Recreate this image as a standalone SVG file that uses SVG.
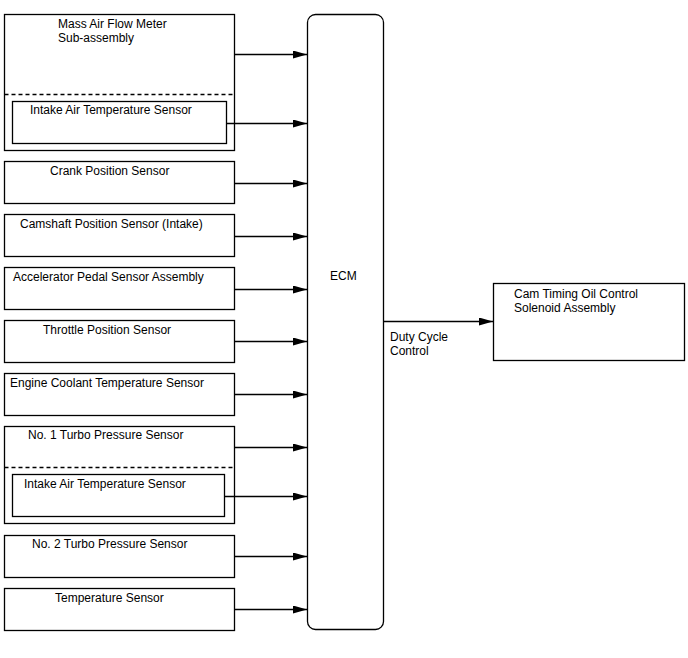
<svg xmlns="http://www.w3.org/2000/svg" width="688" height="658" viewBox="0 0 688 658">
<style>
.b{fill:#fff;stroke:#000;stroke-width:1.3}
.d{stroke:#000;stroke-width:1.3;stroke-dasharray:4,3;fill:none}
.t{font-family:"Liberation Sans",Arial,sans-serif;font-size:12px;fill:#000}
.c{stroke:#000;stroke-width:1.3;fill:none;marker-end:url(#a)}
</style>
<defs>
<marker id="a" markerWidth="14" markerHeight="8" refX="14" refY="4" orient="auto" markerUnits="userSpaceOnUse">
<path d="M0,0 L14,4 L0,8 z" fill="#000"/>
</marker>
</defs>
<rect width="688" height="658" fill="#fff"/>
<g id="maf">
<rect class="b" x="4.5" y="14.5" width="230" height="136"/>
<line class="d" x1="4.5" y1="94.5" x2="234.5" y2="94.5"/>
<text class="t" x="58" y="28">Mass Air Flow Meter</text>
<text class="t" x="58" y="42">Sub-assembly</text>
</g>
<g id="iat1">
<rect class="b" x="12.5" y="101.5" width="214" height="42"/>
<text class="t" x="30" y="114">Intake Air Temperature Sensor</text>
</g>
<g id="crank">
<rect class="b" x="4.5" y="161.5" width="230" height="42"/>
<text class="t" x="50" y="175">Crank Position Sensor</text>
</g>
<g id="cam">
<rect class="b" x="4.5" y="214.5" width="230" height="42"/>
<text class="t" x="20" y="228">Camshaft Position Sensor (Intake)</text>
</g>
<g id="accel">
<rect class="b" x="4.5" y="267.5" width="230" height="42"/>
<text class="t" x="13" y="281">Accelerator Pedal Sensor Assembly</text>
</g>
<g id="throttle">
<rect class="b" x="4.5" y="320.5" width="230" height="42"/>
<text class="t" x="43" y="334">Throttle Position Sensor</text>
</g>
<g id="ect">
<rect class="b" x="4.5" y="373.5" width="230" height="42"/>
<text class="t" x="10" y="387">Engine Coolant Temperature Sensor</text>
</g>
<g id="turbo1">
<rect class="b" x="4.5" y="426.5" width="230" height="97"/>
<line class="d" x1="4.5" y1="467.5" x2="234.5" y2="467.5"/>
<text class="t" x="28" y="439">No. 1 Turbo Pressure Sensor</text>
</g>
<g id="iat2">
<rect class="b" x="12.5" y="474.5" width="212" height="42"/>
<text class="t" x="24" y="488">Intake Air Temperature Sensor</text>
</g>
<g id="turbo2">
<rect class="b" x="4.5" y="535.5" width="230" height="42"/>
<text class="t" x="32" y="548">No. 2 Turbo Pressure Sensor</text>
</g>
<g id="temp">
<rect class="b" x="4.5" y="588.5" width="230" height="42"/>
<text class="t" x="55" y="602">Temperature Sensor</text>
</g>
<g id="ecm">
<rect class="b" x="307.5" y="14.5" width="76" height="615" rx="8"/>
<text class="t" x="330" y="280">ECM</text>
</g>
<g id="ocv">
<rect class="b" x="493.5" y="283.5" width="191" height="77"/>
<text class="t" x="514" y="298">Cam Timing Oil Control</text>
<text class="t" x="514" y="312">Solenoid Assembly</text>
</g>
<g id="connectors">
<line class="c" x1="234.5" y1="54.5" x2="307" y2="54.5"/>
<line class="c" x1="226.5" y1="123.5" x2="307" y2="123.5"/>
<line class="c" x1="234.5" y1="183.5" x2="307" y2="183.5"/>
<line class="c" x1="234.5" y1="236.5" x2="307" y2="236.5"/>
<line class="c" x1="234.5" y1="289.5" x2="307" y2="289.5"/>
<line class="c" x1="234.5" y1="341.5" x2="307" y2="341.5"/>
<line class="c" x1="234.5" y1="394.5" x2="307" y2="394.5"/>
<line class="c" x1="234.5" y1="447.5" x2="307" y2="447.5"/>
<line class="c" x1="224.5" y1="496.5" x2="307" y2="496.5"/>
<line class="c" x1="234.5" y1="556.5" x2="307" y2="556.5"/>
<line class="c" x1="234.5" y1="609.5" x2="307" y2="609.5"/>
<line class="c" x1="383.5" y1="321.5" x2="493" y2="321.5"/>
<text class="t" x="390" y="341">Duty Cycle</text>
<text class="t" x="390" y="355">Control</text>
</g>
</svg>
